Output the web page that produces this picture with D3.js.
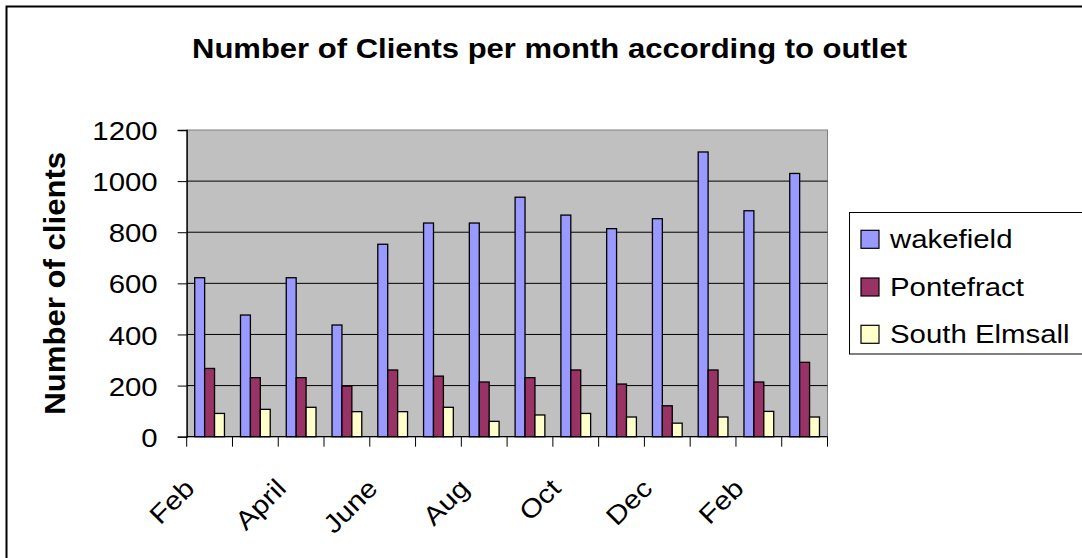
<!DOCTYPE html>
<html><head><meta charset="utf-8">
<script src="https://cdn.jsdelivr.net/npm/d3@7"></script>
<style>
html,body{margin:0;padding:0;background:#fff;}
svg{display:block;font-family:Arial,"Liberation Sans",sans-serif;}
</style></head>
<body>
<svg id="chart" width="1082" height="558"></svg>
<script>
const months = ["Feb","Mar","April","May","June","July","Aug","Sep","Oct","Nov","Dec","Jan","Feb","Mar"];
const seriesNames = ["wakefield","Pontefract","South Elmsall"];
const wakefield = [622,476,622,437,753,836,836,937,867,814,853,1114,884,1030];
const pontefract = [267,231,231,198,261,237,214,231,261,206,121,261,214,291];
const southElmsall = [91,107,115,98,98,115,60,85,91,77,53,77,99,77];
const yTicks = [0,200,400,600,800,1000,1200];
const colors = ["#9999FF","#993366","#FFFFCC"];

(function(){
const values = [wakefield, pontefract, southElmsall];
const STRETCH = 1.13;

const svg = d3.select("#chart");
// outer frame
svg.append("rect").attr("x",6.5).attr("y",6.5).attr("width",1100).attr("height",600)
  .attr("fill","#fff").attr("stroke","#000").attr("stroke-width",2);

const pL = 186.7, pR = 827.5, pT = 130, pB = 436.7;
const idx = months.map((d,i)=>i);
const x0 = d3.scaleBand().domain(idx).range([pL,pR]).padding(0);
const x1 = d3.scaleBand().domain(d3.range(3)).range([0,x0.bandwidth()]).paddingInner(0).paddingOuter(0.808);
const y = d3.scaleLinear().domain([0,1200]).range([pB,pT]);

// plot area
svg.append("rect").attr("x",pL).attr("y",pT).attr("width",pR-pL).attr("height",pB-pT)
  .attr("fill","#C0C0C0").attr("stroke","#808080").attr("stroke-width",1);

// gridlines
svg.append("g").selectAll("line").data(yTicks.filter(d=>d>0 && d<1200)).join("line")
  .attr("x1",pL).attr("x2",pR).attr("y1",d=>y(d)).attr("y2",d=>y(d))
  .attr("stroke","#000").attr("stroke-width",1);

// bars
const g = svg.append("g");
values.forEach((vals,s)=>{
  g.append("g").selectAll("rect").data(vals).join("rect")
    .attr("x",(d,i)=>x0(i)+x1(s))
    .attr("y",d=>y(d))
    .attr("width",x1.bandwidth())
    .attr("height",d=>y(0)-y(d))
    .attr("fill",colors[s]).attr("stroke","#000").attr("stroke-width",1.3);
});

// y axis
const yAxis = d3.axisLeft(y).tickValues(yTicks).tickSize(9).tickPadding(20).tickFormat(d3.format("d"));
const ya = svg.append("g").attr("transform",`translate(${pL},0)`).call(yAxis);
ya.select(".domain").attr("stroke","#000").attr("stroke-width",1.3);
ya.selectAll(".tick line").attr("stroke","#000");
ya.selectAll(".tick text").attr("font-size",26).attr("font-family","Arial,'Liberation Sans',sans-serif")
  .attr("fill","#000").attr("dy","0.37em");

// x axis
const xTickPos = d3.range(months.length+1).map(i=> pL + i*x0.step());
const xa = svg.append("g");
xa.append("line").attr("x1",pL).attr("x2",pR).attr("y1",pB).attr("y2",pB)
  .attr("stroke","#000").attr("stroke-width",1.3);
xa.selectAll("line.t").data(xTickPos).join("line").attr("class","t")
  .attr("x1",d=>d).attr("x2",d=>d).attr("y1",pB).attr("y2",pB+10)
  .attr("stroke","#000").attr("stroke-width",1);
xa.selectAll("text").data(idx.filter(i=>i%2===0)).join("text")
  .attr("transform",i=>`translate(${x0(i)+x0.bandwidth()/2-13.5},490) rotate(-45)`)
  .attr("text-anchor","end").attr("font-size",26).attr("fill","#000")
  .text(i=>months[i]);

// title
svg.append("text").attr("x",549.5).attr("y",58.3).attr("text-anchor","middle")
  .attr("font-size",28).attr("font-weight","bold").attr("fill","#000")
  .attr("textLength",715).attr("lengthAdjust","spacingAndGlyphs")
  .text("Number of Clients per month according to outlet");

// y label
svg.append("text").attr("transform","translate(65,283.3) rotate(-90)").attr("text-anchor","middle")
  .attr("font-size",29).attr("font-weight","bold").attr("fill","#000")
  .attr("textLength",263).attr("lengthAdjust","spacingAndGlyphs")
  .text("Number of clients");

// legend
const lg = svg.append("g");
lg.append("rect").attr("x",849.5).attr("y",212.5).attr("width",260).attr("height",141.5)
  .attr("fill","#fff").attr("stroke","#000").attr("stroke-width",1);
const ly = [248.3,296,343.3];
seriesNames.forEach((n,s)=>{
  lg.append("rect").attr("x",861).attr("y",ly[s]-18).attr("width",18).attr("height",18)
    .attr("fill",colors[s]).attr("stroke","#000").attr("stroke-width",1.2);
  lg.append("text").attr("class","lt").attr("x",890).attr("y",ly[s]).attr("font-size",26).attr("fill","#000").text(n);
});

// horizontal stretch emulation
function stretch(sel){
  sel.each(function(){
    const w = this.getComputedTextLength();
    d3.select(this).attr("textLength",w*STRETCH).attr("lengthAdjust","spacingAndGlyphs");
  });
}
stretch(ya.selectAll(".tick text"));
stretch(xa.selectAll("text"));
stretch(lg.selectAll("text.lt"));
})();
</script>
</body></html>
